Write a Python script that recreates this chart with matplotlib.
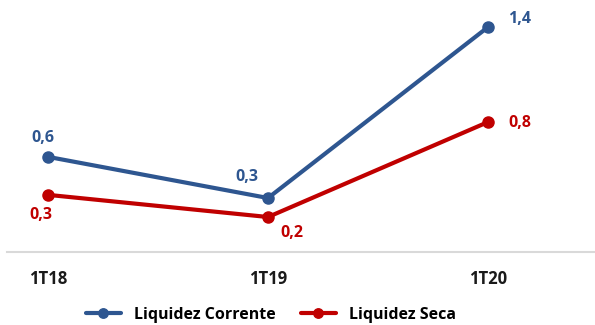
import matplotlib.pyplot as plt

periodos = ['1T18', '1T19', '1T20']
liquidez_corrente = [0.58, 0.32, 1.40]
liquidez_seca = [0.34, 0.20, 0.80]

AZUL = '#2E5690'
VERMELHO = '#C00000'

plt.rcParams['font.family'] = ['Open Sans', 'DejaVu Sans']


def fmt(v):
    return f'{v:.1f}'.replace('.', ',')


fig = plt.figure(figsize=(5.95, 3.25), dpi=100)
ax = fig.add_axes([0.0118, 1 - 252 / 325, 1 - 0.0118, 252 / 325])

x = range(len(periodos))
ax.plot(x, liquidez_corrente, color=AZUL, lw=3, marker='o', ms=8,
        label='Liquidez Corrente', solid_capstyle='round')
ax.plot(x, liquidez_seca, color=VERMELHO, lw=3, marker='o', ms=8,
        label='Liquidez Seca', solid_capstyle='round')

# rótulos de dados (posição relativa ao ponto, em pixels)
offs_azul = [(-5, 19), (-21, 21), (32, 8)]
offs_verm = [(-7, -20), (24, -16), (32, -1)]
for i, v in enumerate(liquidez_corrente):
    ax.annotate(fmt(v), (i, v), xytext=offs_azul[i], textcoords='offset pixels',
                ha='center', va='center', color=AZUL, fontsize=11.5, fontweight='bold')
for i, v in enumerate(liquidez_seca):
    ax.annotate(fmt(v), (i, v), xytext=offs_verm[i], textcoords='offset pixels',
                ha='center', va='center', color=VERMELHO, fontsize=11.5, fontweight='bold')

ax.set_xlim(-41 / 220, 547 / 220)
ax.set_ylim(-0.021, 1.571)
ax.set_xticks(list(x))
ax.set_xticklabels(periodos, fontsize=12, fontweight='bold', color='#1a1a1a')
ax.tick_params(axis='x', length=0, pad=13)
ax.set_yticks([])
for s in ['top', 'left', 'right']:
    ax.spines[s].set_visible(False)
ax.spines['bottom'].set_color('#d9d9d9')
ax.spines['bottom'].set_linewidth(1.5)

fig.legend(loc='center', bbox_to_anchor=(0.455, 1 - 315 / 325), ncol=2,
           frameon=False, handlelength=2.2, columnspacing=1.6, markerscale=0.85,
           prop={'weight': 'bold', 'size': 11.5})

fig.savefig('out.png', dpi=100)
